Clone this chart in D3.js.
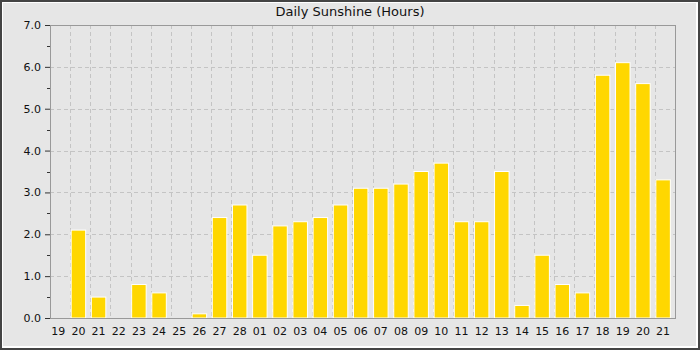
<!DOCTYPE html>
<html>
<head>
<meta charset="utf-8">
<script src="https://cdn.jsdelivr.net/npm/d3@7"></script>
<style>
  body { margin: 0; background: #fff; }
  text { font-family: "DejaVu Sans", sans-serif; fill: #111; }
</style>
</head>
<body>
<svg width="700" height="350"></svg>
<script>
const days = ['19', '20', '21', '22', '23', '24', '25', '26', '27', '28',
    '01', '02', '03', '04', '05', '06', '07', '08', '09', '10',
    '11', '12', '13', '14', '15', '16', '17', '18', '19', '20', '21'];
const sunshine = [0, 2.1, 0.5, 0, 0.8, 0.6, 0, 0.1, 2.4, 2.7,
    1.5, 2.2, 2.3, 2.4, 2.7, 3.1, 3.1, 3.2, 3.5, 3.7,
    2.3, 2.3, 3.5, 0.3, 1.5, 0.8, 0.6, 5.8, 6.1, 5.6, 3.3];
const yTicks = [0, 1, 2, 3, 4, 5, 6, 7];
const yMinorTicks = [0.5, 1.5, 2.5, 3.5, 4.5, 5.5, 6.5];
const title = 'Daily Sunshine (Hours)';

const svg = d3.select('svg');
const margin = { top: 25, right: 25, bottom: 32, left: 50 };
const width = 700 - margin.left - margin.right,
    height = 350 - margin.top - margin.bottom;

// frame
svg.append('rect').attr('x', 0).attr('y', 0).attr('width', 700).attr('height', 350).attr('fill', '#444');
svg.append('rect').attr('x', 2).attr('y', 2).attr('width', 696).attr('height', 346).attr('fill', '#fff');
svg.append('rect').attr('x', 3).attr('y', 3).attr('width', 693).attr('height', 343).attr('fill', '#e6e6e6');

svg.append('text')
    .attr('x', 350).attr('y', 16)
    .attr('text-anchor', 'middle')
    .style('font-size', '13px')
    .text(title);

const g = svg.append('g').attr('transform', 'translate(' + margin.left + ',' + margin.top + ')');

// index based band scale so repeated day labels stay separate
const x = d3.scaleBand()
    .domain(d3.range(days.length))
    .range([0, width])
    .paddingInner(0).paddingOuter(0);
const y = d3.scaleLinear().domain([0, 7]).range([height, 0]);
const barW = x.bandwidth() * 0.72;

// grid
g.selectAll('.vgrid')
    .data(d3.range(1, days.length))
    .enter().append('line')
    .attr('class', 'vgrid')
    .attr('x1', d => Math.round(x(d)) + 0.5)
    .attr('x2', d => Math.round(x(d)) + 0.5)
    .attr('y1', 0).attr('y2', height)
    .attr('stroke', '#c4c4c4')
    .attr('stroke-dasharray', '4,3');

g.selectAll('.hgrid')
    .data(yTicks.slice(1, -1))
    .enter().append('line')
    .attr('class', 'hgrid')
    .attr('x1', 0).attr('x2', width)
    .attr('y1', d => Math.round(y(d)) + 0.5)
    .attr('y2', d => Math.round(y(d)) + 0.5)
    .attr('stroke', '#c4c4c4')
    .attr('stroke-dasharray', '4,3');

// bars
g.selectAll('.bar')
    .data(sunshine)
    .enter().append('rect')
    .attr('class', 'bar')
    .attr('x', (d, i) => x(i) + 1)
    .attr('y', d => y(d))
    .attr('width', barW)
    .attr('height', d => height - y(d))
    .attr('fill', '#ffd700')
    .attr('stroke', '#fff')
    .attr('stroke-width', 1)
    .style('display', d => d > 0 ? null : 'none');

// plot border
g.append('rect')
    .attr('x', 0.5).attr('y', 0.5)
    .attr('width', width).attr('height', height)
    .attr('fill', 'none')
    .attr('stroke', '#999');

// y axis
const yAxis = g.append('g')
    .call(d3.axisLeft(y).tickValues(yTicks).tickFormat(d3.format('.1f')).tickSize(5).tickPadding(4));
yAxis.select('.domain').remove();
yAxis.selectAll('line').attr('stroke', '#333');
yAxis.selectAll('text').style('font-size', '11px').attr('fill', '#111');

g.selectAll('.minor')
    .data(yMinorTicks)
    .enter().append('line')
    .attr('class', 'minor')
    .attr('x1', -3).attr('x2', 0)
    .attr('y1', d => Math.round(y(d)) + 0.5)
    .attr('y2', d => Math.round(y(d)) + 0.5)
    .attr('stroke', '#333');

// x labels
g.selectAll('.xlab')
    .data(days)
    .enter().append('text')
    .attr('class', 'xlab')
    .attr('x', (d, i) => x(i) + 1 + barW / 2)
    .attr('y', height + 17)
    .attr('text-anchor', 'middle')
    .style('font-size', '11px')
    .text(d => d);
</script>
</body>
</html>
